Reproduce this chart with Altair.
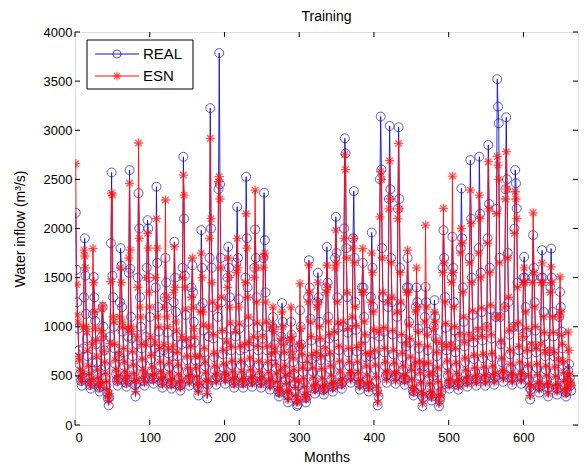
import altair as alt
import pandas as pd

# ---- data (monthly water inflow, m^3/s), one row per year ----
real_by_year = [
    [2160, 1580, 1250, 980, 760, 620, 520, 450, 400, 480, 780, 1300],
    [1900, 1520, 1130, 880, 700, 560, 470, 410, 370, 430, 640, 1130],
    [1507, 1300, 1060, 820, 640, 520, 440, 380, 340, 390, 560, 900],
    [1200, 1000, 760, 600, 480, 400, 330, 270, 200, 280, 900, 1850],
    [2570, 1520, 1300, 1000, 780, 620, 520, 450, 400, 470, 700, 1250],
    [1800, 1620, 1200, 950, 740, 600, 500, 430, 390, 460, 900, 1550],
    [2595, 1590, 1100, 880, 700, 570, 480, 410, 290, 420, 820, 1500],
    [2360, 2000, 1300, 1000, 780, 630, 520, 450, 400, 480, 900, 1600],
    [2085, 2000, 1500, 1100, 840, 670, 550, 470, 420, 480, 780, 1400],
    [2425, 1650, 1200, 950, 740, 600, 500, 430, 380, 450, 760, 1300],
    [1700, 1450, 1200, 940, 730, 590, 490, 420, 370, 430, 700, 1250],
    [1864, 1500, 1150, 900, 700, 570, 470, 400, 350, 410, 820, 1600],
    [2730, 2100, 1520, 1120, 830, 660, 540, 460, 400, 470, 850, 1400],
    [1626, 1350, 1050, 840, 660, 540, 450, 390, 300, 380, 650, 1200],
    [1983, 1600, 1240, 960, 740, 600, 490, 420, 270, 410, 900, 1700],
    [3225, 2000, 1600, 1200, 880, 690, 560, 470, 410, 490, 1100, 2400],
    [3786, 2450, 1700, 1250, 920, 720, 580, 490, 420, 480, 800, 1500],
    [1813, 1600, 1300, 980, 760, 610, 500, 430, 380, 450, 900, 1650],
    [2221, 1700, 1280, 980, 760, 610, 500, 430, 380, 440, 780, 1500],
    [2527, 1900, 1400, 1050, 800, 640, 520, 440, 390, 460, 850, 1600],
    [1990, 1700, 1300, 990, 760, 610, 500, 430, 380, 450, 880, 1700],
    [2364, 1880, 1350, 1000, 760, 600, 490, 420, 360, 420, 700, 1000],
    [1100, 980, 820, 700, 580, 480, 400, 340, 290, 330, 520, 900],
    [1241, 1050, 850, 700, 560, 460, 380, 310, 230, 300, 480, 850],
    [1050, 920, 760, 640, 520, 420, 340, 260, 195, 210, 400, 800],
    [1167, 1000, 820, 680, 540, 430, 350, 280, 230, 280, 600, 1300],
    [1677, 1400, 1080, 860, 670, 540, 440, 370, 320, 380, 700, 1250],
    [1550, 1300, 1050, 840, 660, 530, 430, 360, 310, 370, 750, 1400],
    [1813, 1450, 1100, 880, 690, 560, 460, 390, 340, 400, 900, 1700],
    [2119, 1750, 1300, 990, 760, 610, 500, 420, 370, 440, 1000, 2000],
    [2918, 2765, 1800, 1300, 940, 740, 600, 500, 430, 500, 1050, 1900],
    [2381, 1700, 1250, 970, 750, 600, 490, 420, 360, 420, 800, 1400],
    [1650, 1400, 1100, 880, 690, 560, 460, 390, 340, 400, 700, 1300],
    [1959, 1600, 1200, 930, 720, 570, 450, 350, 200, 290, 900, 2500],
    [3139, 2600, 1800, 1300, 950, 740, 600, 500, 430, 510, 1200, 2300],
    [3044, 2400, 1700, 1250, 920, 720, 590, 490, 420, 500, 1100, 2200],
    [3031, 2300, 1600, 1200, 880, 690, 560, 470, 410, 470, 800, 1400],
    [1700, 1400, 1050, 840, 650, 520, 420, 350, 300, 340, 600, 1200],
    [1400, 1250, 980, 780, 610, 490, 390, 300, 190, 280, 600, 1100],
    [1405, 1250, 950, 760, 590, 470, 380, 310, 250, 290, 500, 1000],
    [1270, 1100, 880, 700, 540, 400, 190, 250, 280, 340, 800, 1600],
    [1983, 1700, 1300, 990, 760, 610, 500, 420, 370, 430, 800, 1500],
    [1915, 1600, 1250, 960, 740, 590, 480, 410, 360, 430, 900, 1800],
    [2408, 1900, 1400, 1050, 800, 640, 520, 440, 390, 460, 900, 1700],
    [2697, 2100, 1500, 1120, 840, 670, 540, 460, 400, 470, 950, 1800],
    [2731, 2150, 1550, 1150, 860, 680, 550, 460, 400, 480, 1000, 1900],
    [2850, 2250, 1600, 1180, 880, 690, 560, 470, 410, 490, 1100, 2200],
    [3520, 3241, 3071, 1700, 1100, 820, 640, 520, 440, 510, 1200, 2400],
    [3132, 2500, 1750, 1250, 920, 720, 580, 480, 410, 480, 1000, 2000],
    [2595, 2459, 2204, 1450, 1000, 760, 600, 490, 420, 490, 900, 1500],
    [1711, 1500, 1200, 940, 720, 570, 460, 380, 260, 360, 800, 1500],
    [1932, 1600, 1250, 960, 740, 580, 470, 390, 330, 390, 800, 1500],
    [1779, 1500, 1150, 900, 700, 560, 460, 380, 290, 380, 750, 1400],
    [1796, 1500, 1150, 900, 700, 550, 450, 370, 310, 370, 650, 1100],
    [1354, 1200, 950, 780, 610, 490, 400, 330, 290, 340, 450, 554],
    [620, 480, 400, 350],
]

esn_by_year = [
    [2660, 1430, 1120, 1050, 700, 650, 560, 480, 440, 520, 1000, 1780],
    [1720, 1600, 1000, 950, 760, 600, 520, 440, 400, 470, 820, 1795],
    [1450, 1150, 980, 860, 700, 560, 480, 420, 380, 430, 960, 1180],
    [1220, 900, 750, 640, 520, 440, 360, 300, 250, 320, 830, 1460],
    [2360, 2340, 1100, 1050, 820, 660, 560, 480, 440, 500, 720, 1100],
    [1600, 1450, 1050, 1000, 780, 640, 540, 470, 420, 500, 980, 1700],
    [2460, 1780, 1000, 950, 750, 610, 520, 450, 340, 450, 900, 1400],
    [2870, 1900, 1200, 1100, 820, 670, 560, 480, 430, 520, 820, 1500],
    [1950, 1800, 1350, 1200, 900, 710, 590, 500, 450, 520, 840, 1500],
    [2100, 1800, 1100, 1000, 780, 640, 540, 460, 410, 490, 820, 1200],
    [2290, 1300, 1100, 1000, 770, 630, 530, 450, 400, 470, 800, 1350],
    [1813, 1400, 1050, 960, 740, 610, 510, 430, 380, 450, 900, 1500],
    [2544, 2340, 1400, 1180, 870, 700, 580, 490, 430, 500, 800, 1300],
    [1700, 1200, 980, 900, 700, 580, 490, 420, 340, 410, 700, 1150],
    [1750, 1500, 1150, 1020, 780, 640, 530, 450, 320, 440, 1000, 1900],
    [2918, 2100, 1450, 1250, 920, 730, 600, 500, 440, 520, 1200, 2476],
    [2527, 2300, 1600, 1300, 960, 760, 620, 520, 450, 510, 850, 1400],
    [1700, 1500, 1200, 1040, 800, 650, 540, 460, 410, 480, 950, 1550],
    [1900, 1600, 1200, 1030, 800, 650, 540, 460, 410, 470, 820, 1450],
    [2150, 1800, 1300, 1100, 840, 680, 560, 470, 420, 490, 900, 1500],
    [2391, 1600, 1250, 1040, 800, 650, 540, 460, 410, 480, 900, 1600],
    [1711, 1750, 1250, 1050, 800, 640, 530, 450, 390, 450, 720, 1000],
    [1200, 950, 800, 750, 620, 520, 440, 370, 320, 360, 560, 880],
    [1150, 1000, 820, 740, 600, 500, 420, 340, 260, 330, 520, 860],
    [1200, 900, 750, 680, 560, 460, 380, 290, 230, 240, 450, 820],
    [1439, 980, 800, 720, 580, 470, 390, 310, 260, 310, 640, 1250],
    [1626, 1350, 1050, 900, 710, 580, 480, 400, 350, 410, 740, 1200],
    [1450, 1250, 1000, 880, 700, 570, 470, 390, 340, 400, 780, 1350],
    [1626, 1400, 1050, 920, 730, 600, 500, 420, 370, 430, 950, 1600],
    [1983, 1650, 1250, 1040, 800, 650, 540, 450, 400, 470, 1050, 1900],
    [2752, 2600, 1700, 1350, 980, 780, 640, 530, 460, 530, 1100, 1800],
    [1900, 1650, 1200, 1010, 790, 640, 530, 450, 390, 450, 820, 1350],
    [1796, 1350, 1050, 920, 730, 600, 500, 420, 370, 430, 720, 1250],
    [1750, 1550, 1150, 970, 760, 610, 490, 380, 230, 320, 950, 2119],
    [2578, 2500, 1700, 1350, 990, 780, 640, 530, 460, 540, 1250, 2200],
    [2690, 2300, 1650, 1300, 960, 760, 630, 520, 450, 530, 1150, 2100],
    [2867, 2200, 1550, 1250, 920, 730, 600, 500, 440, 500, 820, 1350],
    [1780, 1350, 1020, 880, 690, 560, 460, 380, 330, 370, 620, 1150],
    [1600, 1200, 950, 820, 650, 530, 430, 330, 220, 310, 620, 1050],
    [2034, 1200, 920, 800, 630, 510, 420, 340, 280, 320, 520, 980],
    [1150, 1050, 860, 740, 580, 440, 220, 280, 310, 370, 820, 1550],
    [2204, 1650, 1250, 1030, 800, 650, 540, 450, 400, 460, 820, 1450],
    [2534, 1550, 1200, 1000, 780, 630, 520, 440, 390, 460, 920, 1750],
    [2000, 1850, 1350, 1100, 840, 680, 560, 470, 420, 490, 920, 1650],
    [2391, 2050, 1450, 1160, 880, 710, 580, 490, 430, 500, 970, 1750],
    [2340, 2100, 1500, 1190, 900, 720, 590, 490, 430, 510, 1000, 1850],
    [2680, 2200, 1550, 1220, 920, 730, 600, 500, 440, 520, 1100, 2150],
    [2731, 2646, 2500, 1650, 1100, 850, 680, 550, 470, 540, 1200, 2300],
    [2782, 2400, 1700, 1300, 960, 760, 620, 510, 440, 510, 1000, 1950],
    [2374, 2300, 2100, 1400, 1040, 800, 640, 520, 450, 520, 900, 1450],
    [1600, 1450, 1150, 980, 760, 610, 500, 410, 300, 390, 820, 1450],
    [2160, 1550, 1200, 1000, 780, 620, 510, 420, 360, 420, 820, 1450],
    [1650, 1450, 1100, 940, 740, 600, 500, 410, 320, 410, 760, 1350],
    [1609, 1450, 1100, 940, 740, 590, 490, 400, 340, 400, 660, 1100],
    [1507, 1150, 920, 820, 650, 530, 440, 360, 320, 370, 470, 946],
    [760, 520, 435, 400],
]

x_ticks = [0, 100, 200, 300, 400, 500, 600]
y_ticks = [0, 500, 1000, 1500, 2000, 2500, 3000, 3500, 4000]
series_names = ["REAL", "ESN"]

real = [v for yr in real_by_year for v in yr]
esn = [v for yr in esn_by_year for v in yr]
months = list(range(1, len(real) + 1))
df = pd.DataFrame({"month": months, "REAL": real, "ESN": esn})

BLUE = "#1414c0"
RED = "#ff0d0d"
FONT = "Liberation Sans"
STAR = "M-1,0L1,0M0,-1L0,1M-0.7,-0.7L0.7,0.7M-0.7,0.7L0.7,-0.7"
W, H = 503, 393

xs = alt.Scale(domain=[0, 673], nice=False, zero=False)
ys = alt.Scale(domain=[0, 4000], nice=False)

x_axis = alt.Axis(values=x_ticks, tickSize=0, domain=False, grid=False, labelPadding=6,
                  labelFont=FONT, labelFontSize=13, labelColor="black", format="d",
                  title="Months", titleFont=FONT, titleFontSize=14, titleFontWeight="normal",
                  titleColor="black", titlePadding=6)
y_axis = alt.Axis(values=y_ticks, tickSize=0, domain=False, grid=False, labelPadding=3,
                  labelFont=FONT, labelFontSize=13, labelColor="black", format="d",
                  title="Water inflow (m³/s)", titleFont=FONT, titleFontSize=14,
                  titleFontWeight="normal", titleColor="black", titlePadding=16)

base = alt.Chart(df)
blue_line = base.mark_line(color=BLUE, strokeWidth=0.9, clip=True).encode(
    x=alt.X("month:Q", scale=xs, axis=x_axis),
    y=alt.Y("REAL:Q", scale=ys, axis=y_axis),
)
blue_pts = base.mark_point(shape="circle", filled=False, color=BLUE, size=80,
                           strokeWidth=1.0, clip=True).encode(
    x=alt.X("month:Q", scale=xs), y=alt.Y("REAL:Q", scale=ys))
red_line = base.mark_line(color=RED, strokeWidth=0.9, clip=True).encode(
    x=alt.X("month:Q", scale=xs), y=alt.Y("ESN:Q", scale=ys))
red_pts = base.mark_point(shape=STAR, filled=False, color=RED, size=85,
                          strokeWidth=1.3, clip=True).encode(
    x=alt.X("month:Q", scale=xs), y=alt.Y("ESN:Q", scale=ys))

# inward tick marks on all four sides (MATLAB box style)
xt = alt.Chart(pd.DataFrame({"t": x_ticks}))
yt = alt.Chart(pd.DataFrame({"t": y_ticks}))
ticks = (
    xt.mark_rule(color="black", strokeWidth=1).encode(x=alt.X("t:Q", scale=xs), y=alt.value(H), y2=alt.value(H - 5))
    + xt.mark_rule(color="black", strokeWidth=1).encode(x=alt.X("t:Q", scale=xs), y=alt.value(0), y2=alt.value(5))
    + yt.mark_rule(color="black", strokeWidth=1).encode(y=alt.Y("t:Q", scale=ys), x=alt.value(0), x2=alt.value(5))
    + yt.mark_rule(color="black", strokeWidth=1).encode(y=alt.Y("t:Q", scale=ys), x=alt.value(W), x2=alt.value(W - 5))
)

# legend box
one = alt.Chart(pd.DataFrame({"k": [0]}))
leg_box = one.mark_rect(fill="white", stroke="black", strokeWidth=1).encode(
    x=alt.value(12), x2=alt.value(118), y=alt.value(8), y2=alt.value(57))
leg_real_line = one.mark_rule(color=BLUE, strokeWidth=1).encode(
    x=alt.value(20), x2=alt.value(64), y=alt.value(22))
leg_real_pt = one.mark_point(shape="circle", filled=False, color=BLUE, size=64, strokeWidth=1.0).encode(
    x=alt.value(42), y=alt.value(22))
leg_real_txt = one.mark_text(text=series_names[0], align="left", baseline="middle", font=FONT,
                             fontSize=15, color="black").encode(x=alt.value(68), y=alt.value(22))
leg_esn_line = one.mark_rule(color=RED, strokeWidth=1).encode(
    x=alt.value(20), x2=alt.value(64), y=alt.value(44))
leg_esn_pt = one.mark_point(shape=STAR, filled=False, color=RED, size=72, strokeWidth=1.2).encode(
    x=alt.value(42), y=alt.value(44))
leg_esn_txt = one.mark_text(text=series_names[1], align="left", baseline="middle", font=FONT,
                            fontSize=15, color="black").encode(x=alt.value(68), y=alt.value(44))

chart = alt.layer(
    blue_line, blue_pts, red_line, red_pts, ticks,
    leg_box, leg_real_line, leg_real_pt, leg_real_txt, leg_esn_line, leg_esn_pt, leg_esn_txt,
).properties(
    width=W, height=H,
    title=alt.TitleParams("Training", font=FONT, fontSize=14, fontWeight="normal",
                          color="black", anchor="middle", offset=2),
    autosize=alt.AutoSizeParams(type="none"),
    padding={"left": 67, "top": 24, "right": 1, "bottom": 40},
).configure_view(stroke="black", strokeWidth=1).configure(background="white")

chart.save("out.html", embed_options={"renderer": "svg", "actions": False})
